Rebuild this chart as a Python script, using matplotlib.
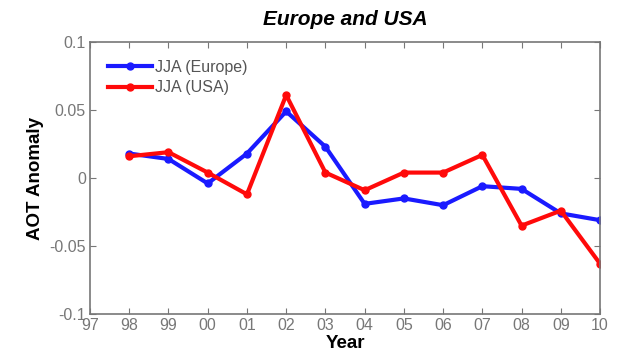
import matplotlib
matplotlib.use("Agg")
import matplotlib.pyplot as plt

plt.rcParams['font.family'] = ['Liberation Sans', 'DejaVu Sans']

years = list(range(1997, 2011))
tick_labels = ['97', '98', '99', '00', '01', '02', '03', '04', '05', '06', '07', '08', '09', '10']
data_years = list(range(1998, 2011))
europe = [0.018, 0.014, -0.004, 0.018, 0.049, 0.023, -0.019, -0.015, -0.020, -0.006, -0.008, -0.026, -0.031]
usa = [0.016, 0.019, 0.004, -0.012, 0.061, 0.004, -0.009, 0.004, 0.004, 0.017, -0.035, -0.024, -0.063]

fig = plt.figure(figsize=(6.2, 3.57), dpi=100)
ax = fig.add_axes([0.1452, 0.1204, 0.8226, 0.7619])
ax.plot(data_years, europe, color='#1a1aff', lw=3, marker='o', ms=5, label='JJA (Europe)')
ax.plot(data_years, usa, color='#ff0a0a', lw=3, marker='o', ms=5, label='JJA (USA)')
ax.set_xlim(1997, 2010)
ax.set_ylim(-0.1, 0.1)
ax.set_xticks(years)
ax.set_xticklabels(tick_labels)
ax.set_yticks([-0.1, -0.05, 0, 0.05, 0.1])
ax.set_yticklabels(['-0.1', '-0.05', '0', '0.05', '0.1'])
ax.tick_params(direction='in', top=True, right=True, labelsize=11.5, colors='#777777', length=4, pad=3)
for s in ax.spines.values():
    s.set_color('#777777')
    s.set_linewidth(1.2)
ax.set_title('Europe and USA', fontsize=15, fontweight='bold', style='italic', pad=12)
ax.set_xlabel('Year', fontsize=13.5, fontweight='bold', labelpad=1)
ax.set_ylabel('AOT Anomaly', fontsize=13.5, fontweight='bold', labelpad=4)
leg = ax.legend(loc='upper left', frameon=False, fontsize=11.5, handlelength=2.75, handletextpad=0.2,
                borderaxespad=0.5, labelspacing=0.35, borderpad=0.6)
for t in leg.get_texts():
    t.set_color('#555555')
fig.savefig('out.png', dpi=100)
